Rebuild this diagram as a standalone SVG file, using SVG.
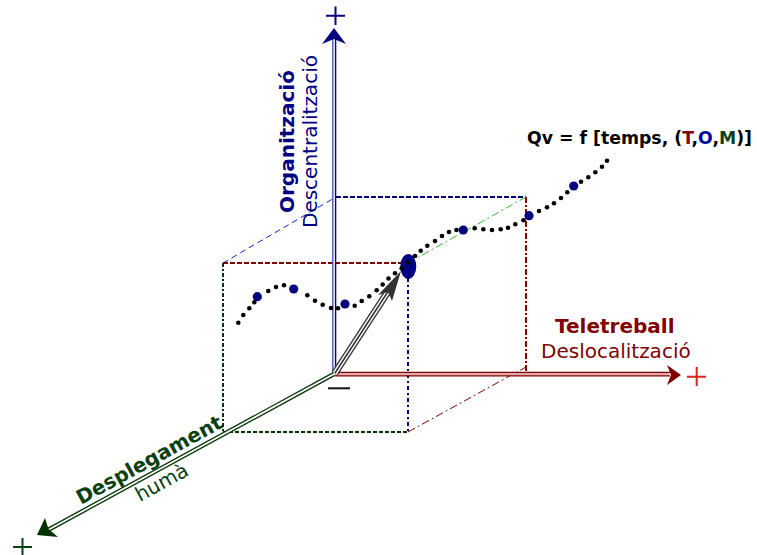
<svg xmlns="http://www.w3.org/2000/svg" width="757" height="555" viewBox="0 0 757 555">
<style>
text{font-family:"DejaVu Sans","Verdana",sans-serif}
.b{font-weight:bold}
.navy{fill:#000080}
.red{fill:#800000}
.grn{fill:#0a4010}
.dot circle{fill:#000;r:2.3px}
.bdot circle{fill:#000080;r:4.6px}
.guide{fill:none}
</style>
<rect width="757" height="555" fill="#fff"/>
<g id="guides" class="guide">
  <line x1="223" y1="263" x2="336" y2="197" stroke="#1a1acc" stroke-width="1" stroke-dasharray="6 4"/>
  <line x1="336" y1="197" x2="526" y2="197" stroke="#000080" stroke-width="2" stroke-dasharray="5 2"/>
  <line x1="223" y1="263" x2="402" y2="263" stroke="#800000" stroke-width="2" stroke-dasharray="5 2"/>
  <line x1="526" y1="197" x2="526" y2="373" stroke="#800000" stroke-width="2" stroke-dasharray="6 2 2 2"/>
  <line x1="223" y1="263" x2="223" y2="433" stroke="#003300" stroke-width="2" stroke-dasharray="4 2 2 2"/>
  <line x1="223" y1="432" x2="408" y2="432" stroke="#003300" stroke-width="2" stroke-dasharray="4 2"/>
  <line x1="408" y1="278" x2="408" y2="432" stroke="#000080" stroke-width="2" stroke-dasharray="4 3 2 3"/>
  <line x1="408" y1="432" x2="526" y2="367" stroke="#800000" stroke-width="1" stroke-dasharray="8 3 2 3"/>
  <line x1="408" y1="263" x2="526" y2="197" stroke="#33bb33" stroke-width="1" stroke-dasharray="8 3 2 3"/>
</g>
<g id="connectors">
  <!-- vertical axis -->
  <line x1="332.8" y1="374" x2="332.8" y2="38" stroke="#5050b8" stroke-width="1.4"/>
  <line x1="335.6" y1="374" x2="335.6" y2="38" stroke="#000080" stroke-width="1.4"/>
  <polygon points="334,28 346,44 334,39 322,44" fill="#000080"/>
  <!-- horizontal axis -->
  <rect x="335" y="372.5" width="334" height="3.2" fill="#e4a8a8"/>
  <line x1="335" y1="372.3" x2="670" y2="372.3" stroke="#800000" stroke-width="1.3"/>
  <line x1="335" y1="375.8" x2="670" y2="375.8" stroke="#800000" stroke-width="1.3"/>
  <polygon points="681,375 667,365 671,375 667,385" fill="#800000"/>
  <!-- diagonal axis -->
  <line x1="334" y1="374" x2="48" y2="530" stroke="#003300" stroke-width="4.4"/>
  <line x1="334" y1="374" x2="48" y2="530" stroke="#fff" stroke-width="1.8"/>
  <polygon points="37,535 58,537 48.5,529 45,518" fill="#003300"/>
  <!-- resultant arrow -->
  <line x1="335" y1="373" x2="389" y2="290" stroke="#333" stroke-width="7"/>
  <line x1="335" y1="373" x2="389" y2="290" stroke="#fff" stroke-width="4.4"/>
  <line x1="335" y1="373" x2="389" y2="290" stroke="#333" stroke-width="1.5"/>
  <polygon points="401,271 392,301 388,292 378,295" fill="#333"/>
  <line x1="328" y1="388.3" x2="350" y2="388.3" stroke="#111" stroke-width="2"/>
</g>
<g id="plus-top"><path d="M326,15.7h19M335.5,6.5v18.5" stroke="#000080" stroke-width="2" fill="none"/></g>
<g id="plus-right"><path d="M687,376.7h19M696.7,367v19" stroke="#dd2222" stroke-width="2" fill="none"/></g>
<g id="plus-left"><path d="M13,547h19M22.5,538v18" stroke="#0a4010" stroke-width="2" fill="none"/></g>
<g id="curve">
  <ellipse cx="408.3" cy="266.5" rx="8" ry="12.5" fill="#000080"/>
  <g class="dot">
    <circle cx="238.3" cy="322.7" r="2.3"/><circle cx="243.3" cy="315" r="2.3"/><circle cx="249.3" cy="308.3" r="2.3"/><circle cx="254.3" cy="302.3" r="2.3"/>
    <circle cx="268.3" cy="291" r="2.3"/><circle cx="276" cy="287" r="2.3"/><circle cx="284" cy="285.3" r="2.3"/>
    <circle cx="307.3" cy="295.3" r="2.3"/><circle cx="315" cy="300.7" r="2.3"/><circle cx="322.7" cy="304.7" r="2.3"/><circle cx="331" cy="308" r="2.3"/><circle cx="338" cy="308.3" r="2.3"/>
    <circle cx="354.7" cy="305.7" r="2.3"/><circle cx="361.7" cy="301" r="2.3"/><circle cx="369.3" cy="296.3" r="2.3"/><circle cx="376.7" cy="290.3" r="2.3"/><circle cx="382.7" cy="284.5" r="2.3"/><circle cx="388.5" cy="278.5" r="2.3"/><circle cx="395" cy="273.3" r="2.3"/>
    <circle cx="401.7" cy="268.3" r="2.3"/><circle cx="408.3" cy="262.3" r="2.3"/><circle cx="415" cy="256" r="2.3"/><circle cx="420.7" cy="250.7" r="2.3"/><circle cx="427.3" cy="245.7" r="2.3"/><circle cx="435" cy="241" r="2.3"/><circle cx="442" cy="236" r="2.3"/><circle cx="449" cy="232" r="2.3"/><circle cx="456.5" cy="230" r="2.3"/>
    <circle cx="474.7" cy="228.3" r="2.3"/><circle cx="483.3" cy="229.3" r="2.3"/><circle cx="492" cy="230" r="2.3"/><circle cx="500.7" cy="229.3" r="2.3"/><circle cx="508" cy="227.7" r="2.3"/><circle cx="515.3" cy="224.3" r="2.3"/><circle cx="523.5" cy="220.3" r="2.3"/>
    <circle cx="539" cy="211" r="2.3"/><circle cx="547" cy="207.3" r="2.3"/><circle cx="554" cy="203.3" r="2.3"/><circle cx="561" cy="198" r="2.3"/><circle cx="567.3" cy="192.3" r="2.3"/>
    <circle cx="581" cy="181.7" r="2.3"/><circle cx="588.3" cy="177.3" r="2.3"/><circle cx="595.3" cy="172.3" r="2.3"/><circle cx="602" cy="166.7" r="2.3"/><circle cx="607" cy="160.7" r="2.3"/>
  </g>
  <g class="bdot">
    <circle cx="257.3" cy="296.7" r="4.6"/><circle cx="293.7" cy="289" r="4.6"/><circle cx="345" cy="304" r="4.6"/>
    <circle cx="463.3" cy="230" r="4.6"/><circle cx="529" cy="215.7" r="4.6"/><circle cx="573.7" cy="186" r="4.6"/>
  </g>
</g>
<g id="label-formula">
  <text x="527" y="143.5" class="b" font-size="17" textLength="225" lengthAdjust="spacingAndGlyphs" fill="#000">Qv = f [temps, (<tspan fill="#800000">T</tspan>,<tspan fill="#0000a0">O</tspan>,<tspan fill="#0a4010">M</tspan>)]</text>
</g>
<g id="label-org">
  <text transform="translate(294.3,213) rotate(-90)" class="b navy" font-size="20">Organització</text>
  <text transform="translate(317.3,228) rotate(-90)" class="navy" font-size="20">Descentralització</text>
</g>
<g id="label-tele">
  <text x="555" y="333" class="b red" font-size="20">Teletreball</text>
  <text x="541" y="358" class="red" font-size="20">Deslocalització</text>
</g>
<g id="label-desp">
  <text transform="translate(81,505) rotate(-28.7)" class="b grn" font-size="20">Desplegament</text>
  <text transform="translate(140,502) rotate(-28.7)" class="grn" font-size="20">humà</text>
</g>
</svg>
